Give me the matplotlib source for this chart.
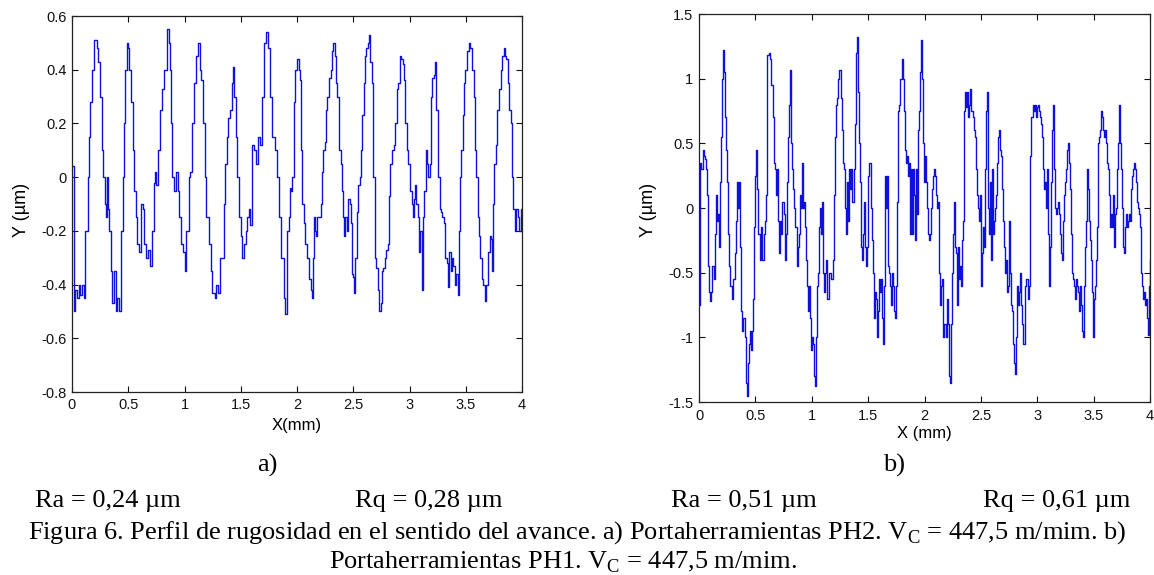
import numpy as np
import matplotlib
matplotlib.use("Agg")
import matplotlib.pyplot as plt
from matplotlib.ticker import FuncFormatter

plt.rcParams['axes.unicode_minus'] = False
plt.rcParams['mathtext.fontset'] = 'custom'
plt.rcParams['mathtext.rm'] = 'Liberation Serif'

# perfil a) PH2 : (x mm, y um)
xa = [0.000, 0.021, 0.030, 0.045, 0.060, 0.075, 0.090, 0.104, 0.119, 0.140, 0.149, 0.164, 0.179, 0.194,
      0.218, 0.230, 0.248, 0.263, 0.278, 0.290, 0.299, 0.307, 0.319, 0.331, 0.343, 0.358, 0.373, 0.388,
      0.403, 0.418, 0.439, 0.454, 0.463, 0.475, 0.487, 0.499, 0.510, 0.528, 0.540, 0.552, 0.567, 0.582,
      0.597, 0.612, 0.627, 0.642, 0.654, 0.672, 0.693, 0.707, 0.725, 0.737, 0.749, 0.767, 0.785, 0.797,
      0.821, 0.845, 0.860, 0.872, 0.881, 0.893, 0.910, 0.925, 0.940, 0.955, 0.970, 0.985, 1.000, 1.015,
      1.036, 1.048, 1.066, 1.084, 1.101, 1.119, 1.134, 1.149, 1.164, 1.179, 1.194, 1.215, 1.233, 1.245,
      1.269, 1.284, 1.299, 1.313, 1.334, 1.349, 1.364, 1.376, 1.388, 1.403, 1.418, 1.430, 1.442, 1.454,
      1.466, 1.484, 1.499, 1.513, 1.531, 1.543, 1.558, 1.573, 1.585, 1.603, 1.621, 1.633, 1.651, 1.672,
      1.693, 1.710, 1.722, 1.740, 1.764, 1.782, 1.800, 1.821, 1.836, 1.860, 1.881, 1.896,
      1.910, 1.925, 1.934, 1.946, 1.958, 1.970, 1.982, 2.000, 2.015, 2.030, 2.039, 2.048, 2.060, 2.075,
      2.090, 2.105, 2.120, 2.129, 2.138, 2.150, 2.159, 2.168, 2.180, 2.195, 2.210, 2.222, 2.234, 2.246,
      2.257, 2.269, 2.284, 2.299, 2.314, 2.323, 2.335, 2.347, 2.359, 2.374, 2.389, 2.398, 2.407, 2.419,
      2.428, 2.443, 2.455, 2.467, 2.476, 2.485, 2.497, 2.509, 2.518, 2.533, 2.545, 2.557, 2.569, 2.581,
      2.593, 2.605, 2.617, 2.629, 2.641, 2.653, 2.665, 2.677, 2.689, 2.704, 2.719, 2.731, 2.743, 2.754,
      2.766, 2.778, 2.793, 2.808, 2.817, 2.829, 2.844, 2.859, 2.874, 2.886, 2.898, 2.913, 2.928, 2.940,
      2.952, 2.964, 2.976, 2.988, 3.003, 3.018, 3.027, 3.036, 3.048, 3.060, 3.072, 3.084, 3.096, 3.108,
      3.120, 3.132, 3.144, 3.156, 3.168, 3.180, 3.192, 3.204, 3.216, 3.228, 3.237, 3.249, 3.257, 3.269,
      3.281, 3.293, 3.305, 3.317, 3.329, 3.341, 3.353, 3.365, 3.377, 3.389, 3.401, 3.413, 3.428, 3.437,
      3.449, 3.461, 3.473, 3.485, 3.497, 3.512, 3.527, 3.542, 3.557, 3.569, 3.581, 3.593, 3.605, 3.617,
      3.629, 3.641, 3.656, 3.668, 3.683, 3.698, 3.713, 3.725, 3.737, 3.743, 3.754, 3.766, 3.781, 3.796,
      3.811, 3.826, 3.838, 3.850, 3.862, 3.874, 3.886, 3.898, 3.910, 3.922, 3.934, 3.946, 3.961, 3.976,
      3.988, 4.000]
ya = [0.04, -0.50, -0.42, -0.45, -0.40, -0.44, -0.40, -0.45, -0.20, 0.00, 0.15, 0.28, 0.40, 0.51,
      0.48, 0.43, 0.30, 0.10, 0.00, -0.10, -0.15, 0.00, -0.12, -0.20, -0.35, -0.47, -0.35, -0.50,
      -0.45, -0.50, -0.20, 0.00, 0.20, 0.40, 0.50, 0.48, 0.40, 0.28, 0.10, -0.05, -0.15, -0.25,
      -0.28, -0.10, -0.12, -0.25, -0.30, -0.27, -0.33, -0.20, -0.02, 0.02, -0.03, 0.10, 0.25, 0.33,
      0.40, 0.55, 0.50, 0.40, 0.20, 0.00, -0.05, 0.02, -0.05, -0.15, -0.25, -0.28, -0.35, -0.20,
      0.00, 0.02, 0.20, 0.35, 0.45, 0.50, 0.40, 0.36, 0.20, 0.00, -0.15, -0.25, -0.35, -0.43,
      -0.45, -0.40, -0.43, -0.30, -0.30, -0.10, 0.05, 0.15, 0.22, 0.25, 0.35, 0.41, 0.30, 0.15,
      0.00, -0.15, -0.22, -0.30, -0.25, -0.20, -0.15, -0.12, -0.18, 0.12, 0.10, 0.05, 0.15, 0.12,
      0.30, 0.50, 0.54, 0.48, 0.30, 0.15, 0.10, 0.00, -0.15, -0.30, -0.45, -0.51,
      -0.20, -0.15, -0.04, -0.05, 0.00, 0.28, 0.40, 0.44, 0.40, 0.36, 0.10, -0.10, -0.17, -0.25,
      -0.30, -0.38, -0.42, -0.45, -0.30, -0.15, -0.20, -0.22, -0.15, -0.15, -0.10, 0.02, 0.10, 0.13,
      0.25, 0.30, 0.37, 0.40, 0.47, 0.50, 0.45, 0.35, 0.30, 0.10, 0.05, -0.05, -0.15, -0.22,
      -0.15, -0.20, -0.08, -0.10, -0.17, -0.36, -0.37, -0.43, -0.30, -0.13, -0.03, 0.00, 0.10, 0.23,
      0.35, 0.45, 0.48, 0.50, 0.53, 0.43, 0.35, 0.00, -0.30, -0.34, -0.42, -0.50, -0.47, -0.35,
      -0.34, -0.30, -0.27, -0.25, -0.07, 0.05, 0.10, 0.12, 0.20, 0.33, 0.35, 0.45, 0.44, 0.42,
      0.36, 0.20, 0.10, 0.05, -0.05, -0.10, -0.15, -0.08, -0.03, -0.10, -0.15, -0.28, -0.20, -0.42,
      -0.15, -0.05, 0.10, 0.05, 0.00, 0.05, 0.30, 0.37, 0.38, 0.43, 0.25, 0.20, 0.00, -0.12,
      -0.13, -0.15, -0.17, -0.30, -0.32, -0.41, -0.28, -0.35, -0.30, -0.33, -0.40, -0.36, -0.44, -0.20,
      0.00, 0.10, 0.23, 0.35, 0.40, 0.47, 0.50, 0.48, 0.40, 0.30, 0.10, 0.00, -0.15, -0.22,
      -0.30, -0.38, -0.40, -0.46, -0.40, -0.28, -0.22, -0.23, -0.35, -0.10, 0.05, 0.12, 0.25, 0.33,
      0.40, 0.45, 0.48, 0.45, 0.44, 0.35, 0.25, 0.20, 0.00, -0.12, -0.20, -0.12, -0.15, -0.20,
      -0.12, -0.18]

# perfil b) PH1
xb = [0.000, 0.006, 0.012, 0.021, 0.033, 0.045, 0.057, 0.066, 0.072, 0.081, 0.090, 0.099, 0.108, 0.117,
      0.129, 0.138, 0.147, 0.156, 0.165, 0.174, 0.183, 0.192, 0.201, 0.210, 0.219, 0.228, 0.237, 0.246,
      0.255, 0.267, 0.279, 0.291, 0.303, 0.315, 0.324, 0.333, 0.345, 0.354, 0.363, 0.372, 0.384, 0.393,
      0.405, 0.414, 0.423, 0.432, 0.441, 0.450, 0.459, 0.468, 0.480, 0.489, 0.498, 0.508, 0.517, 0.526,
      0.538, 0.550, 0.562, 0.574, 0.586, 0.598, 0.607, 0.619, 0.631, 0.640, 0.652, 0.664, 0.673, 0.682,
      0.691, 0.703, 0.712, 0.721, 0.730, 0.739, 0.751, 0.760, 0.769, 0.778, 0.790, 0.799, 0.808, 0.817,
      0.826, 0.835, 0.844, 0.853, 0.865, 0.874, 0.883, 0.892, 0.901, 0.910, 0.919, 0.928, 0.937, 0.946,
      0.955, 0.964, 0.973, 0.982, 0.991, 1.000, 1.009, 1.018, 1.027, 1.036, 1.045, 1.054, 1.063, 1.072,
      1.081, 1.090, 1.099, 1.108, 1.117, 1.129, 1.138, 1.150, 1.162, 1.174, 1.186, 1.195, 1.204, 1.213,
      1.225, 1.237, 1.246, 1.258, 1.267, 1.276, 1.288, 1.297, 1.306, 1.315, 1.324, 1.333, 1.342, 1.351,
      1.360, 1.372, 1.381, 1.390, 1.399, 1.408, 1.417, 1.426, 1.435, 1.444, 1.453, 1.462, 1.474, 1.483,
      1.492, 1.501, 1.510,
      1.524, 1.533, 1.542, 1.551, 1.560, 1.568, 1.577, 1.586, 1.595, 1.604, 1.613, 1.622, 1.631, 1.640,
      1.649, 1.658, 1.667, 1.676, 1.685, 1.693, 1.702, 1.711, 1.720, 1.729, 1.738, 1.747, 1.756, 1.765,
      1.777, 1.786, 1.798, 1.807, 1.815, 1.824, 1.833, 1.842, 1.851, 1.860, 1.869, 1.878, 1.887, 1.896,
      1.905, 1.914, 1.923, 1.932, 1.940, 1.949, 1.958, 1.967, 1.976, 1.985, 1.994, 2.003, 2.012, 2.021,
      2.030, 2.039, 2.048, 2.057, 2.065, 2.074, 2.083, 2.092, 2.101, 2.110, 2.119, 2.128, 2.137, 2.146,
      2.155, 2.164, 2.173, 2.182, 2.190, 2.199, 2.208, 2.217, 2.226, 2.235, 2.244, 2.253, 2.262, 2.271,
      2.280, 2.289, 2.298, 2.307, 2.315, 2.324, 2.333, 2.342, 2.351, 2.360, 2.369, 2.378, 2.387, 2.396,
      2.405, 2.414, 2.423, 2.432, 2.440, 2.449, 2.458, 2.467, 2.476, 2.485, 2.494, 2.503, 2.512, 2.521,
      2.530, 2.539, 2.548, 2.557, 2.565, 2.574, 2.583, 2.592, 2.601, 2.610, 2.619, 2.628, 2.637, 2.646,
      2.655, 2.664, 2.673, 2.682, 2.690, 2.699, 2.708, 2.717, 2.726, 2.735, 2.744, 2.753, 2.762, 2.771,
      2.780, 2.789, 2.798, 2.807, 2.815, 2.824, 2.833, 2.842, 2.851, 2.860, 2.869, 2.878, 2.887, 2.896,
      2.905, 2.914, 2.923, 2.932, 2.940, 2.949, 2.958, 2.967, 2.976, 2.985, 2.994, 3.003, 3.012, 3.021,
      3.030, 3.039, 3.048, 3.057, 3.065, 3.074, 3.083, 3.092, 3.101, 3.110, 3.119, 3.128, 3.137, 3.146,
      3.155, 3.164, 3.173, 3.182, 3.190, 3.199, 3.208, 3.217, 3.226, 3.235, 3.244, 3.253, 3.262, 3.271,
      3.280, 3.289, 3.298, 3.307, 3.315, 3.324, 3.333, 3.342, 3.351, 3.360, 3.369, 3.378, 3.387, 3.396,
      3.405, 3.414, 3.423, 3.432, 3.440, 3.449, 3.458, 3.467, 3.476, 3.485, 3.494, 3.503, 3.512, 3.521,
      3.530, 3.539, 3.548, 3.557, 3.565, 3.574, 3.583, 3.592, 3.601, 3.610, 3.619, 3.628, 3.637, 3.646,
      3.655, 3.664, 3.673, 3.682, 3.690, 3.699, 3.708, 3.717, 3.726, 3.735, 3.744, 3.753, 3.762, 3.771,
      3.780, 3.789, 3.798, 3.807, 3.815, 3.824, 3.833, 3.842, 3.851, 3.860, 3.869, 3.878, 3.887, 3.896,
      3.905, 3.914, 3.923, 3.932, 3.940, 3.949, 3.958, 3.967, 3.976, 3.985, 3.994, 4.000]
yb = [-0.75, -0.40, 0.35, 0.30, 0.45, 0.40, 0.38, 0.30, 0.10, -0.45, -0.65, -0.72, -0.65, -0.45,
      -0.55, -0.20, 0.10, -0.10, -0.05, -0.30, 0.20, 0.55, 1.00, 1.22, 1.05, 0.70, 0.45, 0.20,
      -0.20, -0.45, -0.60, -0.70, -0.55, -0.35, -0.10, 0.20, 0.00, 0.20, -0.30, -0.80, -0.95, -0.85,
      -1.00, -1.35, -1.45, -1.20, -1.05, -0.95, -1.10, -0.95, -0.70, -0.15, 0.25, 0.45, 0.15, -0.20,
      -0.40, -0.15, -0.40, -0.20, -0.10, 0.10, 1.18, 1.20, 1.15, 0.95, 0.70, 0.35, 0.30, 0.10,
      0.30, -0.10, -0.35, -0.10, -0.20, 0.05, -0.05, -0.40, -0.20, 0.20, 0.55, 0.80, 1.07, 0.50,
      0.30, 0.15, 0.00, -0.15, -0.45, -0.30, -0.20, 0.10, 0.00, 0.35, 0.00, 0.05, -0.15, -0.40,
      -0.60, -0.80, -0.60, -0.85, -1.10, -1.00, -1.05, -1.30, -1.38, -1.00, -0.60, -0.50, -0.15, 0.00,
      -0.20, 0.05, -0.50, -0.65, -0.50, -0.40, -0.70, -0.50, -0.50, -0.55, -0.40, 0.10, 0.55, 0.80,
      0.85, 1.00, 1.07, 0.85, 0.60, 0.35, 0.30, 0.00, -0.20, 0.20, -0.10, 0.30, 0.15, 0.30,
      0.05, 0.30, 0.65, 1.20, 1.32, 0.90, 0.50, 0.20, -0.30, -0.40, -0.20, 0.05, -0.30, -0.45,
      -0.30, 0.25, 0.35,
      0.00, -0.25, -0.50, -0.85, -0.65, -0.70, -1.00, -0.80, -0.55, -0.65, -0.55, -0.85, -1.05, -0.60,
      0.25, 0.00, 0.25, -0.45, -0.50, -0.60, -0.75, -0.50, -0.60, -0.80, -0.85, -0.60, 0.05, 0.75,
      0.80, 1.00, 1.15, 1.00, 0.75, 0.45, 0.35, 0.40, 0.25, 0.35, -0.20, 0.30, -0.20, 0.30,
      0.10, -0.25, 0.30, -0.05, 0.60, 0.75, 1.05, 1.30, 1.00, 0.50, 0.20, 0.40, 0.20, 0.00,
      -0.20, -0.25, -0.20, 0.00, 0.15, 0.25, 0.30, 0.25, 0.10, 0.00, 0.05, -0.50, -0.75, -0.60,
      -0.55, -1.00, -0.90, -0.90, -1.00, -0.70, -0.90, -1.30, -1.35, -0.90, -0.50, -0.20, 0.05, -0.30,
      -0.35, -0.75, -0.30, -0.55, -0.45, -0.60, -0.25, -0.10, 0.75, 0.90, 0.78, 0.90, 0.70, 0.80,
      0.92, 0.75, 0.75, 0.70, 0.60, 0.55, 0.30, 0.10, 0.00, -0.10, 0.10, -0.60, -0.35, -0.15,
      -0.30, 0.30, 0.75, 0.90, 0.00, -0.20, 0.20, -0.40, 0.30, -0.20, -0.10, 0.00, 0.10, 0.35,
      0.55, 0.60, 0.45, 0.40, 0.15, -0.10, -0.30, -0.50, -0.40, -0.65, -0.60, -0.10, -0.50, -0.75,
      -0.80, -1.05, -1.20, -1.28, -1.00, -0.60, -0.75, -0.65, -0.50, -0.75, -0.90, -1.05, -0.60, -0.55,
      -0.55, -0.70, -0.60, -0.20, 0.40, 0.70, 0.80, 0.75, 0.80, 0.70, 0.78, 0.80, 0.75, 0.70,
      0.65, 0.55, 0.30, 0.15, 0.20, 0.00, 0.30, -0.20, -0.60, -0.30, 0.20, 0.60, 0.80, 0.30,
      0.00, -0.05, 0.00, 0.05, -0.05, -0.20, -0.35, -0.40, -0.10, 0.10, 0.20, 0.30, 0.45, 0.50,
      0.35, 0.15, -0.20, -0.50, -0.55, -0.60, -0.70, -0.55, -0.60, -0.65, -0.80, -0.60, -0.75, -0.95,
      -1.00, -0.60, -0.30, -0.10, 0.30, 0.15, -0.10, -0.25, -0.40, -0.65, -1.00, -0.70, -0.60, -0.40,
      -0.15, 0.50, 0.55, 0.60, 0.75, 0.70, 0.60, 0.55, 0.60, 0.50, 0.35, 0.30, 0.10, -0.15,
      -0.05, -0.15, 0.10, -0.30, -0.05, 0.00, 0.30, 0.50, 0.80, 0.50, 0.30, 0.00, -0.30, -0.35,
      -0.15, -0.05, -0.15, -0.10, -0.05, -0.10, 0.15, 0.25, 0.30, 0.35, 0.30, 0.20, 0.05, 0.00,
      -0.05, -0.15, -0.50, -0.60, -0.70, -0.65, -0.75, -0.70, -0.85, -0.98, -0.60, -0.40]

xticks = [0, 0.5, 1, 1.5, 2, 2.5, 3, 3.5, 4]
yticks_a = [-0.8, -0.6, -0.4, -0.2, 0, 0.2, 0.4, 0.6]
yticks_b = [-1.5, -1, -0.5, 0, 0.5, 1, 1.5]

W, H = 1154, 575
fig = plt.figure(figsize=(W / 100, H / 100), dpi=100)

def rect(x0, y0, x1, y1):
    # pixeles (arriba-izquierda) -> fraccion de figura
    return [x0 / W, 1 - y1 / H, (x1 - x0) / W, (y1 - y0) / H]

fmt = FuncFormatter(lambda v, p: '%g' % v)
sans = 'Liberation Sans'
serif = 'Liberation Serif'

def estilo(ax, ylim, yticks, xpad):
    ax.set_xlim(0, 4)
    ax.set_ylim(*ylim)
    ax.set_xticks(xticks)
    ax.set_yticks(yticks)
    ax.xaxis.set_major_formatter(fmt)
    ax.yaxis.set_major_formatter(fmt)
    ax.tick_params(direction='in', top=True, right=True, length=4, width=0.8,
                   labelsize=10.5, colors='#111111')
    ax.tick_params(axis='x', pad=xpad)
    ax.tick_params(axis='y', pad=4)
    for lab in ax.get_xticklabels() + ax.get_yticklabels():
        lab.set_fontfamily(sans)
    for s in ax.spines.values():
        s.set_linewidth(0.9)
        s.set_color('#222222')

axa = fig.add_axes(rect(72, 16, 522, 392))
axa.plot(xa, ya, color='#1010dd', lw=1.0, drawstyle='steps-post')
estilo(axa, (-0.8, 0.6), yticks_a, 4)
axa.set_ylabel('Y (µm)', fontfamily=sans, fontsize=13)
axa.yaxis.set_label_coords(-0.113, 0.484)
axa.yaxis.label.set_va('center')
axa.set_xlabel('X(mm)', fontfamily=sans, fontsize=12)
axa.xaxis.set_label_coords(0.5, -0.088)
axa.xaxis.label.set_va('center')

axb = fig.add_axes(rect(699, 14, 1150, 402))
axb.plot(xb, yb, color='#1010dd', lw=1.0, drawstyle='steps-post')
estilo(axb, (-1.5, 1.5), yticks_b, 5)
axb.set_ylabel('Y (µm)', fontfamily=sans, fontsize=13)
axb.yaxis.set_label_coords(-0.111, 0.495)
axb.yaxis.label.set_va('center')
axb.set_xlabel('X (mm)', fontfamily=sans, fontsize=12)
axb.xaxis.set_label_coords(0.5, -0.082)
axb.xaxis.label.set_va('center')

def t(px, py, s, ha='left'):
    fig.text(px / W, 1 - py / H, s, ha=ha, va='center', fontfamily=serif, fontsize=19)

t(267, 465, 'a)', 'center')
t(894, 465, 'b)', 'center')
t(35, 501, 'Ra = 0,24 µm')
t(355, 501, 'Rq = 0,28 µm')
t(671, 501, 'Ra = 0,51 µm')
t(983, 501, 'Rq = 0,61 µm')
t(577, 533, r'Figura 6. Perfil de rugosidad en el sentido del avance. a) Portaherramientas PH2. V$_\mathrm{C}$ = 447,5 m/mim. b)', 'center')
t(563, 562, r'Portaherramientas PH1. V$_\mathrm{C}$ = 447,5 m/mim.', 'center')

fig.savefig('out.png', dpi=100)
